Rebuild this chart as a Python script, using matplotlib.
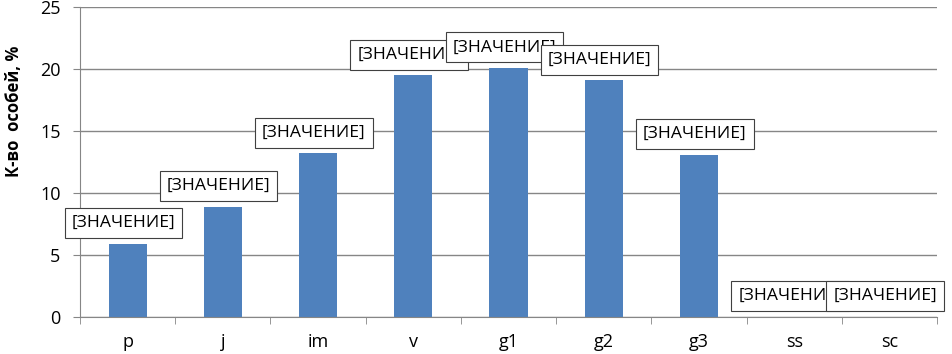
import numpy as np
import matplotlib.pyplot as plt

plt.rcParams['font.family'] = ['Open Sans', 'DejaVu Sans']

categories = ['p', 'j', 'im', 'v', 'g1', 'g2', 'g3', 'ss', 'sc']
values = [5.9, 8.9, 13.2, 19.5, 20.1, 19.1, 13.1, 0, 0]
label_text = '[ЗНАЧЕНИЕ]'
y_ticks = [0, 5, 10, 15, 20, 25]

bar_color = '#4F81BD'
grid_color = '#868686'

fig = plt.figure(figsize=(9.53, 3.54), dpi=100)
ax = fig.add_axes([80 / 953, 1 - 316.7 / 354, 857 / 953, 309.4 / 354])

x = np.arange(len(categories))
ax.bar(x, values, width=0.4, color=bar_color, zorder=2)

# data labels, Excel-style placeholder boxes
for xi, v in zip(x, values):
    ax.annotate(label_text, xy=(xi, v), xytext=(-3, 9), textcoords='offset points',
                ha='center', va='bottom', fontsize=12.6, color='black', zorder=5,
                annotation_clip=False,
                bbox=dict(boxstyle='square,pad=0.4', fc='white', ec='#404040', lw=0.8))

ax.set_xlim(-0.5, len(categories) - 0.5)
ax.set_ylim(0, 25)
ax.set_yticks(y_ticks)
ax.set_xticks(x)
ax.set_xticklabels(categories)
ax.set_xticks(np.arange(len(categories) + 1) - 0.5, minor=True)

ax.tick_params(axis='x', which='major', length=0, pad=12, labelsize=13)
ax.tick_params(axis='x', which='minor', length=5, color=grid_color, direction='out')
ax.tick_params(axis='y', length=5, color=grid_color, pad=9, labelsize=13)

ax.grid(axis='y', color=grid_color, lw=1, zorder=0)
ax.set_axisbelow(True)
for s in ['top', 'right']:
    ax.spines[s].set_visible(False)
for s in ['left', 'bottom']:
    ax.spines[s].set_color(grid_color)

ax.set_ylabel('К-во  особей, %', fontsize=12, fontweight='bold')
ax.yaxis.set_label_coords(-0.067, 0.665)

fig.savefig('out.png', dpi=100)
